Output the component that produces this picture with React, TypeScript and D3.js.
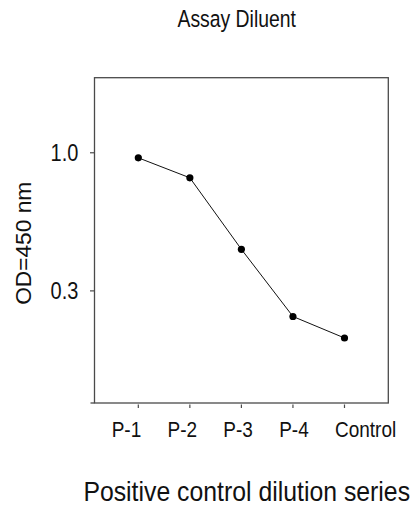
import * as React from "react";
import { line, scaleLog, scalePoint } from "d3";

const categories = ["P-1", "P-2", "P-3", "P-4", "Control"];
const odValues = [0.957, 0.804, 0.431, 0.24, 0.199];
const yTicks = [1.0, 0.3];
const yDomain = [0.1129, 1.924];

const W = 415;
const H = 506;
const frame = { left: 94.5, right: 388.3, top: 77.7, bottom: 403 };
const font = "'Liberation Sans', Arial, sans-serif";

// horizontal text in the source is drawn a little taller than Arial
const Tall = (props: {
  x: number;
  y: number;
  size: number;
  sy: number;
  anchor?: string;
  dy?: string;
  children: React.ReactNode;
}) => (
  <text
    transform={`translate(${props.x},${props.y}) scale(1,${props.sy})`}
    fontSize={props.size}
    textAnchor={props.anchor ?? "middle"}
    dy={props.dy}
    fill="#111"
  >
    {props.children}
  </text>
);

export default function App() {
  const xScale = scalePoint()
    .domain(categories)
    .range([frame.left, frame.right])
    .padding(0.85);

  // tick labels sit left-aligned at an even step
  const labelScale = scalePoint().domain(categories).range([111.7, 335]);

  const yScale = scaleLog()
    .domain(yDomain)
    .range([frame.bottom, frame.top]);

  const path = line<number>()
    .x((_, i) => xScale(categories[i]) as number)
    .y((d) => yScale(d))(odValues);

  const axisColor = "#4a4a4a";

  return (
    <svg
      width={W}
      height={H}
      style={{ position: "absolute", left: 0, top: 0, fontFamily: font }}
    >
      <rect x={0} y={0} width={W} height={H} fill="white" />
      <Tall x={236.7} y={26.5} size={19.4} sy={1.2}>
        Assay Diluent
      </Tall>

      {/* frame */}
      <rect
        x={frame.left}
        y={frame.top}
        width={frame.right - frame.left}
        height={frame.bottom - frame.top}
        fill="none"
        stroke={axisColor}
        strokeWidth={1.3}
      />

      {/* y ticks */}
      <line
        x1={frame.left - 4}
        x2={frame.left}
        y1={frame.bottom}
        y2={frame.bottom}
        stroke={axisColor}
        strokeWidth={1.3}
      />
      {yTicks.map((t) => (
        <g key={t}>
          <line
            x1={frame.left - 4.5}
            x2={frame.left}
            y1={yScale(t)}
            y2={yScale(t)}
            stroke={axisColor}
            strokeWidth={1.2}
          />
          <Tall x={78.3} y={yScale(t)} size={20} sy={1.16} anchor="end" dy="0.36em">
            {t.toFixed(1)}
          </Tall>
        </g>
      ))}

      {/* x ticks */}
      {categories.map((c) => (
        <g key={c}>
          <line
            x1={xScale(c)}
            x2={xScale(c)}
            y1={frame.bottom + 1.5}
            y2={frame.bottom + 5}
            stroke={axisColor}
            strokeWidth={1.2}
          />
          <Tall x={labelScale(c) as number} y={437.3} size={19} sy={1.2} anchor="start">
            {c}
          </Tall>
        </g>
      ))}

      {/* data */}
      <path d={path ?? ""} fill="none" stroke="#111" strokeWidth={1} />
      {odValues.map((d, i) => (
        <circle
          key={categories[i]}
          cx={xScale(categories[i])}
          cy={yScale(d)}
          r={3.6}
          fill="#000"
        />
      ))}

      {/* axis labels */}
      <text
        transform={`translate(31,243.3) rotate(-90)`}
        fontSize={22.7}
        textAnchor="middle"
        fill="#111"
      >
        OD=450 nm
      </text>
      <Tall x={246.7} y={501} size={24.8} sy={1.09}>
        Positive control dilution series
      </Tall>
    </svg>
  );
}
